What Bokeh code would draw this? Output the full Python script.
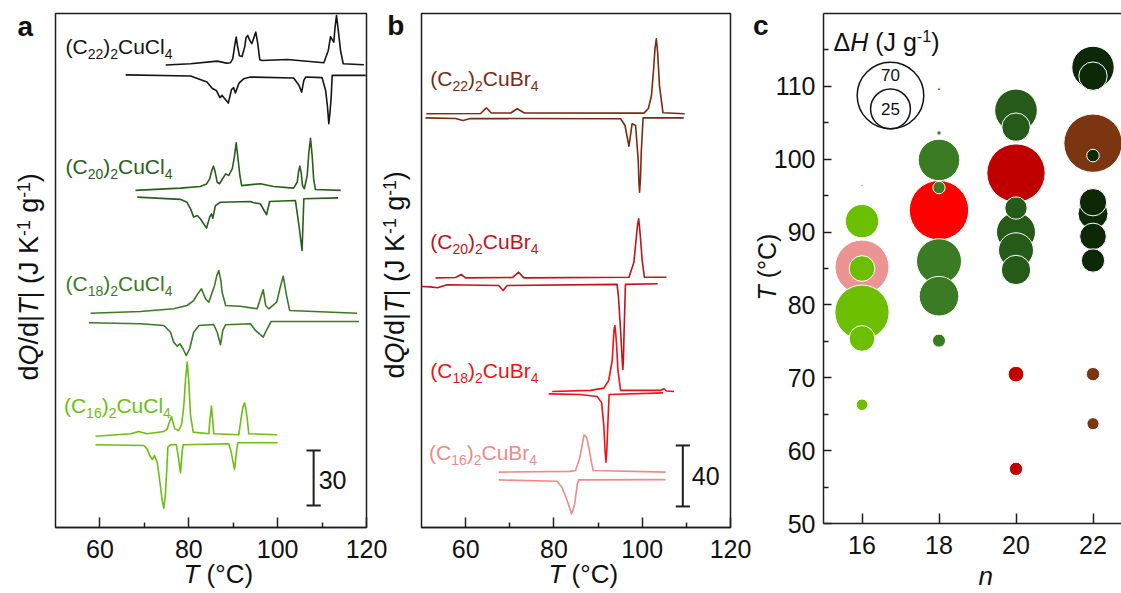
import math
from bokeh.plotting import figure
from bokeh.models import Label, FixedTicker, LinearAxis, ColumnDataSource, Grid
from bokeh.layouts import row
from bokeh.embed import file_html
from bokeh.resources import INLINE

FONT = "Liberation Sans"
INK = "#1e1e1e"
TXT = "#111111"
NB = "\u00a0"

# ---------------- Panel a: (Cn)2CuCl4 DSC traces ----------------
# T in degC, dQ/d|T| in J K-1 g-1 measured from each trace's own baseline
a22_heat_T = [74.8, 80.4, 86.4, 88.5, 89.4, 89.9, 90.3, 90.67, 91.0, 91.4, 92.0, 92.6, 92.9, 93.28, 93.7, 94.18, 94.6, 95.08, 95.5, 95.98, 96.5, 102.15, 110.4, 111.4, 111.9, 112.64, 112.9, 113.25, 113.6, 114.15, 114.76, 119.4]
a22_heat_q = [0, 0.65, 2.1, 1.0, 1.2, 3.5, 10.0, 15.2, 10.0, 5.0, 4.6, 10.0, 15.0, 16.1, 13.5, 11.6, 14.5, 17.9, 12.0, 2.8, 2.4, 3.0, 1.2, 7.9, 15.5, 12.4, 20.0, 27.0, 20.0, 7.9, 0.65, 0.1]
a22_cool_T = [65.8, 80.4, 84.1, 85.3, 86.2, 87.0, 87.5, 88.1, 88.9, 89.6, 90.1, 90.5, 91.3, 92.4, 93.9, 103.6, 104.8, 105.4, 105.9, 106.3, 110.0, 110.8, 111.2, 111.52, 111.8, 112.05, 112.28, 119.8]
a22_cool_q = [0, -0.6, -3.9, -7.5, -8.5, -12.4, -11.2, -13.0, -15.4, -8.1, -7.0, -9.9, -4.5, -2.1, -1.2, -1.7, -5.7, -9.4, -3.0, -1.2, -1.5, -8.5, -17.0, -26.6, -20.0, -12.1, -0.3, -0.3]
a20_heat_T = [68.0, 78.1, 82.6, 84.0, 84.7, 85.2, 85.56, 85.9, 86.4, 86.9, 88.3, 89.0, 89.8, 90.3, 90.67, 91.0, 91.5, 91.9, 96.1, 99.1, 103.6, 104.4, 104.7, 105.0, 105.3, 105.6, 106.0, 106.65, 107.0, 107.4, 107.8, 108.1, 108.5, 114.2]
a20_heat_q = [0, 1.2, 2.1, 3.5, 6.3, 11.0, 13.2, 10.5, 4.4, 3.6, 9.0, 8.1, 11.8, 19.0, 25.9, 19.0, 8.1, 2.6, 3.6, 2.1, 1.2, 4.4, 10.0, 13.2, 9.5, 2.6, 0.8, 8.1, 20.0, 28.4, 18.0, 6.3, 0.5, 0]
a20_cool_T = [68.4, 78.1, 79.6, 80.4, 81.1, 81.9, 82.6, 84.0, 84.7, 85.1, 85.4, 86.0, 87.1, 93.9, 94.6, 96.1, 97.5, 98.2, 104.0, 104.8, 105.5, 105.9, 113.6]
a20_cool_q = [0.2, -1.0, -2.6, -6.2, -10.7, -9.8, -11.6, -16.7, -10.7, -8.9, -11.3, -4.4, -2.6, -2.2, -2.9, -3.4, -9.4, -2.2, -1.6, -15.3, -28.9, -0.7, -0.2]
a18_heat_T = [57.9, 69.1, 76.6, 79.6, 81.1, 82.0, 82.86, 83.76, 84.5, 85.8, 86.3, 86.76, 87.2, 87.5, 88.3, 91.6, 95.4, 96.1, 96.75, 97.3, 98.0, 99.8, 100.5, 101.25, 102.0, 102.7, 117.9]
a18_heat_q = [0, 0.9, 2.4, 4.2, 6.9, 10.5, 13.3, 7.9, 6.0, 15.1, 20.5, 23.3, 18.0, 11.5, 4.2, 3.8, 2.4, 7.9, 12.8, 4.2, 2.4, 6.0, 13.3, 20.2, 9.7, 1.5, 0]
a18_cool_T = [57.5, 69.1, 74.4, 75.9, 76.6, 77.4, 78.0, 78.7, 79.42, 80.2, 81.1, 82.3, 85.6, 86.4, 87.14, 87.65, 88.3, 93.9, 95.0, 96.75, 97.65, 98.55, 118.3]
a18_cool_q = [0.1, -0.5, -1.4, -5.1, -10.5, -12.7, -11.4, -14.1, -17.8, -14.1, -5.1, -1.4, -0.9, -5.1, -11.9, -4.1, -1.0, -0.5, -4.1, -7.8, -3.2, 0.8, 0.8]
a16_heat_T = [59.0, 66.9, 68.75, 70.6, 74.4, 75.1, 75.6, 76.11, 76.5, 76.85, 77.75, 78.4, 78.88, 79.3, 79.64, 80.0, 80.39, 81.0, 84.5, 84.8, 85.11, 85.4, 85.63, 91.26, 91.87, 92.2, 92.54, 92.85, 93.15, 93.5, 99.9]
a16_heat_q = [0, 1.3, 2.6, 1.3, 2.6, 3.7, 7.5, 10.7, 7.0, 4.0, 3.1, 6.5, 16.7, 32.0, 40.4, 30.0, 11.3, 2.2, 1.3, 10.0, 16.4, 8.0, 1.3, 0.8, 11.3, 16.0, 18.2, 15.0, 9.5, 1.3, 0.8]
a16_cool_T = [59.0, 69.9, 70.6, 71.2, 71.8, 72.3, 72.9, 73.6, 74.0, 74.38, 74.7, 74.98, 75.3, 75.9, 77.2, 77.6, 78.14, 78.5, 78.74, 89.0, 89.55, 90.29, 90.74, 91.0, 100.0]
a16_cool_q = [0.1, -0.3, -2.1, -5.7, -7.9, -5.7, -9.4, -22.1, -30.0, -34.5, -28.0, -16.6, -1.2, 0.1, 0.1, -5.7, -15.2, -3.9, 0.1, 0.7, -3.9, -13.4, -3.9, 1.2, 1.2]

# ---------------- Panel b: (Cn)2CuBr4 DSC traces ----------------
b22_heat_T = [51.1, 63.4, 64.7, 65.8, 70.2, 71.7, 73.3, 100.4, 101.4, 102.1, 102.6, 102.9, 103.2, 103.5, 103.9, 104.7, 109.6]
b22_heat_q = [0, 0.2, 3.9, 0.5, 0.5, 3.3, 0.5, 0.4, 3.5, 12.0, 30.0, 43.0, 49.2, 40.0, 18.6, 0.7, 0]
b22_cool_T = [50.9, 57.7, 59.4, 61.1, 95.1, 96.1, 97.0, 97.7, 98.5, 99.1, 99.25, 99.4, 99.6, 99.8, 100.2, 109.4]
b22_cool_q = [0.1, -0.3, -1.6, -0.3, -0.5, -4.9, -18.5, -3.8, -4.9, -27.9, -42.0, -48.7, -40.0, -21.3, 0.1, 0.1]
b20_heat_T = [53.2, 57.7, 59.0, 60.0, 70.6, 72.0, 73.2, 97.0, 98.1, 98.7, 98.95, 99.2, 99.5, 100.0, 100.5, 105.5]
b20_heat_q = [0, 0.2, 2.2, 0, 0.2, 3.7, 0, 0.4, 10.0, 27.7, 35.0, 38.7, 30.0, 11.3, 0.4, 0.4]
b20_cool_T = [50.0, 52.0, 53.6, 55.8, 67.5, 68.5, 69.4, 94.3, 94.6, 95.1, 95.45, 95.6, 95.75, 95.9, 96.2, 103.5]
b20_cool_q = [-0.7, -0.9, -1.5, 0.5, 0, -3.3, 0, 0.7, -6.6, -29.5, -48.0, -55.1, -48.0, -29.5, 0.7, 1.1]
b18_heat_T = [79.6, 88.3, 91.3, 92.4, 93.2, 93.6, 93.8, 94.0, 94.2, 94.5, 95.1, 104.1, 104.9, 105.5, 107.2]
b18_heat_q = [0, 0.7, 2.2, 7.2, 20.3, 40.0, 43.3, 38.0, 30.2, 13.8, 0.7, 0.7, 1.8, 0.3, 0]
b18_cool_T = [78.8, 86.0, 89.8, 90.8, 91.3, 91.6, 91.8, 92.0, 92.2, 92.5, 104.7]
b18_cool_q = [0.1, -0.3, -1.6, -5.6, -20.7, -38.0, -44.7, -36.0, -20.7, -0.3, 0.8]
b16_heat_T = [67.5, 83.7, 84.9, 85.9, 86.8, 87.4, 87.9, 88.5, 88.9, 105.3]
b16_heat_q = [0, 0.5, 1.1, 9.8, 24.5, 22.8, 16.4, 6.4, 1.1, 0]
b16_cool_T = [67.5, 80.7, 81.8, 83.0, 84.0, 84.7, 85.3, 85.6, 105.3]
b16_cool_q = [0.1, -0.8, -4.7, -13.4, -22.2, -15.6, -2.5, 0.1, 0.3]

# ---------------- Panel c: transition temperatures and enthalpies ----------------
c_n      = [16, 16, 18, 20, 20, 20, 22, 22, 22,
            16, 16, 16, 16, 16,
            18, 18, 18, 18, 18, 18, 18,
            20, 20, 20, 20, 20, 20,
            22, 22, 22, 22, 22, 22, 22]
c_T      = [96.4, 85.2, 93.0, 98.1, 70.5, 57.5, 102.2, 70.5, 63.7,
            91.5, 85.0, 79.0, 75.4, 66.3,
            109.6, 103.6, 99.9, 96.1, 86.0, 81.2, 75.1,
            106.7, 104.4, 93.3, 90.0, 87.5, 84.8,
            112.6, 111.4, 100.5, 94.1, 92.5, 89.4, 86.1]
c_dH     = [0.1, 46.0, 55.7, 53.7, 3.9, 2.8, 53.7, 2.8, 2.3,
            17.6, 10.4, 46.6, 10.4, 2.1,
            0.14, 0.3, 27.3, 2.4, 32.0, 24.8, 2.7,
            28.7, 12.7, 7.9, 24.0, 19.3, 13.6,
            28.3, 12.7, 2.5, 11.8, 14.2, 11.2, 8.6]
c_halide = ["Br"] * 9 + ["Cl"] * 25
legend_dH = [70, 25]

ticks_T = [60, 80, 100, 120]
minor_T = [70, 90, 110]
ticks_n = [16, 18, 20, 22]
ticks_c = [50, 60, 70, 80, 90, 100, 110]
minor_c = [55, 65, 75, 85, 95, 105, 115]

# ---------------- styles ----------------
curve_col = {("Cl", 22): "#141414", ("Cl", 20): "#285e1b", ("Cl", 18): "#3a7a24", ("Cl", 16): "#6cbf10",
             ("Br", 22): "#7a2a10", ("Br", 20): "#c3121a", ("Br", 18): "#f01212", ("Br", 16): "#f08a8a"}
bubble_col = {("Cl", 16): "#6cbf00", ("Cl", 18): "#3b7b24", ("Cl", 20): "#265a19", ("Cl", 22): "#0d2806",
              ("Br", 16): "#ec9393", ("Br", 18): "#ff0000", ("Br", 20): "#c00000", ("Br", 22): "#7c3511"}

EM = {' ': .278, NB: .278, '(': .333, ')': .333, '/': .278, '|': .26, '-': .333, '\u00b0': .4, 'C': .722,
      'd': .556, 'g': .556, 'J': .5, 'K': .667, 'Q': .778, 'T': .611, 'n': .556, 'H': .722, 'u': .556,
      'l': .222, 'B': .667, 'r': .333, '\u0394': .667}

H_PAGE = 593
MID = 0.35  # baseline -> middle of the text box, in em


def tw(s, size):
    return sum(EM.get(ch, .556) for ch in s) * size


def rich_h(p, x, y, runs, size, color, units="data"):
    """Horizontal run of styled text; (x, y) is the baseline start."""
    dx = 0
    for text, style, scale, shift in runs:
        fs = size * scale
        p.add_layout(Label(x=x, y=y, x_units=units, y_units=units, x_offset=dx, y_offset=shift + MID * fs,
                           text=text, text_font=FONT, text_font_size=f"{fs:.1f}px", text_font_style=style,
                           text_color=color, text_align="left", text_baseline="middle"))
        dx += tw(text, fs)


def rich_v(p, x, y, runs, size, color):
    """Text rotated 90 deg, reading upwards; (x, y) is the baseline start in screen px."""
    dy = 0
    for text, style, scale, shift in runs:
        fs = size * scale
        p.add_layout(Label(x=x - shift - MID * fs, y=y + dy, x_units="screen", y_units="screen",
                           angle=math.pi / 2, text=text, text_font=FONT, text_font_size=f"{fs:.1f}px",
                           text_font_style=style, text_color=color, text_align="left", text_baseline="middle"))
        dy += tw(text, fs)


def letter(p, x, y_base, text, size, style):
    p.add_layout(Label(x=x, y=H_PAGE - y_base + MID * size, x_units="screen", y_units="screen", text=text,
                       text_font=FONT, text_font_size=f"{size}px", text_font_style=style, text_color=TXT,
                       text_baseline="middle"))


def panel_fig(c_left, c_w, box, xr, yr):
    """Figure whose frame is the whole canvas; box = (left, right, top, bottom) page px of the panel."""
    bl, br, bt, bb = box
    kx = (xr[1] - xr[0]) / (br - bl)
    ky = (yr[1] - yr[0]) / (bb - bt)
    x0 = xr[0] - (bl - c_left) * kx
    x1 = xr[1] + (c_left + c_w - br) * kx
    y0 = yr[0] - (H_PAGE - bb) * ky
    y1 = yr[1] + bt * ky
    p = figure(width=c_w, height=H_PAGE, x_range=(x0, x1), y_range=(y0, y1), output_backend="svg",
               toolbar_location=None, min_border=0, x_axis_location=None, y_axis_location=None)
    for g in list(p.center):
        if isinstance(g, Grid):
            g.visible = False
    p.background_fill_color = "white"
    p.border_fill_color = "white"
    p.outline_line_color = None
    return p


def make_axis(loc, bounds, ticks, minor, tick_in=10, standoff=12):
    ax = LinearAxis(fixed_location=loc, bounds=bounds, ticker=FixedTicker(ticks=ticks, minor_ticks=minor))
    ax.major_tick_in = tick_in
    ax.major_tick_out = 0
    ax.minor_tick_in = 5
    ax.minor_tick_out = 0
    ax.axis_line_color = INK
    ax.axis_line_width = 1.5
    ax.major_tick_line_color = INK
    ax.minor_tick_line_color = INK
    ax.major_tick_line_width = 1.5
    ax.minor_tick_line_width = 1.5
    ax.major_label_text_font = FONT
    ax.major_label_text_font_size = "25px"
    ax.major_label_text_color = TXT
    ax.major_label_standoff = standoff
    return ax


def compound(n, hal):
    return [("(C", "normal", 1, 0), (str(n), "normal", .667, -5), (")", "normal", 1, 0),
            ("2", "normal", .667, -5), ("Cu" + hal, "normal", 1, 0), ("4", "normal", .667, -5)]


ylab_runs = [("d", "normal", 1, 0), ("Q", "italic", 1, 0), ("/d|", "normal", 1, 0), ("T", "italic", 1, 0),
             ("|" + NB + "(J K", "normal", 1, 0), ("-1", "normal", .65, 9), (NB + "g", "normal", 1, 0),
             ("-1", "normal", .65, 9), (")", "normal", 1, 0)]
xlab_runs = [("T", "italic", 1, 0), (NB + "(\u00b0C)", "normal", 1, 0)]

# canvases (page px): a 0-415, b 415-751, c 751-1121
CA, CB, CC = (0, 415), (415, 336), (751, 370)

# ================= Panel a =================
scale_a = 30
ytop_a = 514 * scale_a / 55
pa = panel_fig(CA[0], CA[1], (55, 366, 13, 527), (50, 120), (0, ytop_a))
pa.quad(left=[50], right=[120], bottom=[0], top=[ytop_a], fill_color=None, line_color=INK, line_width=1.5)
pa.add_layout(make_axis(0, (50, 120), ticks_T, minor_T), "below")

traces_a = [(a22_heat_T, a22_heat_q, 252.3, 22), (a22_cool_T, a22_cool_q, 246.9, 22),
            (a20_heat_T, a20_heat_q, 183.9, 20), (a20_cool_T, a20_cool_q, 180.0, 20),
            (a18_heat_T, a18_heat_q, 116.9, 18), (a18_cool_T, a18_cool_q, 111.6, 18),
            (a16_heat_T, a16_heat_q, 49.8, 16), (a16_cool_T, a16_cool_q, 45.0, 16)]
for T, q, off, n in traces_a:
    pa.line(T, [off + v for v in q], line_color=curve_col[("Cl", n)], line_width=1.6, line_join="round")

for n, x, y in [(22, 52.25, 258.4), (20, 52.25, 193.0), (18, 52.25, 129.3), (16, 51.9, 62.4)]:
    rich_h(pa, x, y, compound(n, "Cl"), 21, curve_col[("Cl", n)])

sbx_a, sb0_a, cap_a = 108.1, 12.0, 1.6
pa.segment(x0=[sbx_a, sbx_a - cap_a, sbx_a - cap_a], x1=[sbx_a, sbx_a + cap_a, sbx_a + cap_a],
           y0=[sb0_a, sb0_a, sb0_a + scale_a], y1=[sb0_a + scale_a, sb0_a, sb0_a + scale_a],
           line_color=INK, line_width=2)
pa.add_layout(Label(x=sbx_a, y=sb0_a + scale_a / 2, x_offset=5, y_offset=-2, text=str(scale_a), text_font=FONT,
                    text_font_size="25px", text_color=TXT, text_baseline="middle"))

rich_v(pa, 38, H_PAGE - 380, ylab_runs, 27, TXT)
rich_h(pa, 183, H_PAGE - 583, xlab_runs, 26, TXT, units="screen")
letter(pa, 17, 35.7, "a", 28, "bold")
# panel b's y title and letter sit in the gap, drawn on this canvas
rich_v(pa, 404, H_PAGE - 378, ylab_runs, 27, TXT)
letter(pa, 386.7, 35, "b", 28, "bold")

# ================= Panel b =================
scale_b = 40
ytop_b = 514 * scale_b / 61
pb = panel_fig(CB[0], CB[1], (421, 730, 13, 527), (50, 120), (0, ytop_b))
pb.quad(left=[50], right=[120], bottom=[0], top=[ytop_b], fill_color=None, line_color=INK, line_width=1.5)
pb.add_layout(make_axis(0, (50, 120), ticks_T, minor_T), "below")

traces_b = [(b22_heat_T, b22_heat_q, 271.3, 22), (b22_cool_T, b22_cool_q, 268.5, 22),
            (b20_heat_T, b20_heat_q, 163.7, 20), (b20_cool_T, b20_cool_q, 158.7, 20),
            (b18_heat_T, b18_heat_q, 89.2, 18), (b18_cool_T, b18_cool_q, 87.5, 18),
            (b16_heat_T, b16_heat_q, 36.3, 16), (b16_cool_T, b16_cool_q, 31.1, 16)]
for T, q, off, n in traces_b:
    pb.line(T, [off + v for v in q], line_color=curve_col[("Br", n)], line_width=1.6, line_join="round")

for n, x, y in [(22, 52.0, 289.4), (20, 52.0, 182.8), (18, 52.0, 97.9), (16, 51.7, 44.4)]:
    rich_h(pb, x, y, compound(n, "Br"), 21, curve_col[("Br", n)])

sbx_b, sb0_b, cap_b = 109.2, 13.8, 1.6
pb.segment(x0=[sbx_b, sbx_b - cap_b, sbx_b - cap_b], x1=[sbx_b, sbx_b + cap_b, sbx_b + cap_b],
           y0=[sb0_b, sb0_b, sb0_b + scale_b], y1=[sb0_b + scale_b, sb0_b, sb0_b + scale_b],
           line_color=INK, line_width=2)
pb.add_layout(Label(x=sbx_b, y=sb0_b + scale_b / 2, x_offset=9, y_offset=0, text=str(scale_b), text_font=FONT,
                    text_font_size="25px", text_color=TXT, text_baseline="middle"))
rich_h(pb, 548 - CB[0], H_PAGE - 583, xlab_runs, 26, TXT, units="screen")

# ================= Panel c =================
xr_c = (15, 23)
pc = panel_fig(CC[0], CC[1], (823, 823 + 8 * 38.5, 13, 523), xr_c, (50, 120))
pc.add_layout(make_axis(50, xr_c, ticks_n, []), "below")
pc.add_layout(make_axis(15, (50, 120), ticks_c, minor_c, tick_in=8, standoff=8), "left")
pc.segment(x0=[xr_c[0]], x1=[xr_c[1]], y0=[120], y1=[120], line_color=INK, line_width=1.5)

K_PX = 3.98  # bubble radius in px per sqrt(J/g): area proportional to dH
order = sorted(range(len(c_n)), key=lambda i: (c_halide[i] != "Br", -c_dH[i]))
src = ColumnDataSource(dict(
    n=[c_n[i] for i in order], T=[c_T[i] for i in order],
    size=[2 * K_PX * math.sqrt(c_dH[i]) for i in order],
    color=[bubble_col[(c_halide[i], c_n[i])] for i in order]))
pc.scatter("n", "T", size="size", fill_color="color", line_color="white", line_width=1, source=src)

px_per_T = 510 / 70
leg_n, leg_bottom = 16.74, 104.17
leg_r = [K_PX * math.sqrt(v) for v in legend_dH]
pc.scatter([leg_n] * 2, [leg_bottom + r / px_per_T for r in leg_r], size=[2 * r for r in leg_r],
           fill_color=None, line_color=TXT, line_width=1.5)
pc.add_layout(Label(x=leg_n, y=leg_bottom + 2 * leg_r[0] / px_per_T, y_offset=-12.5, text=str(legend_dH[0]),
                    text_font=FONT, text_font_size="17px", text_align="center", text_baseline="middle",
                    text_color=TXT))
pc.add_layout(Label(x=leg_n, y=leg_bottom + leg_r[1] / px_per_T, text=str(legend_dH[1]),
                    text_font=FONT, text_font_size="17px", text_align="center", text_baseline="middle",
                    text_color=TXT))
rich_h(pc, 833 - CC[0], H_PAGE - 50, [("\u0394", "normal", 1, 0), ("H", "italic", 1, 0),
                                      (NB + "(J g", "normal", 1, 0), ("-1", "normal", .65, 9),
                                      (")", "normal", 1, 0)], 25, TXT, units="screen")

rich_v(pc, 775 - CC[0], H_PAGE - 300, xlab_runs, 25, TXT)
letter(pc, 978 - CC[0], 585, "n", 26, "italic")
letter(pc, 752.5 - CC[0], 35, "c", 28, "bold")

layout = row(pa, pb, pc)
open("out.html", "w").write(file_html(layout, INLINE))
